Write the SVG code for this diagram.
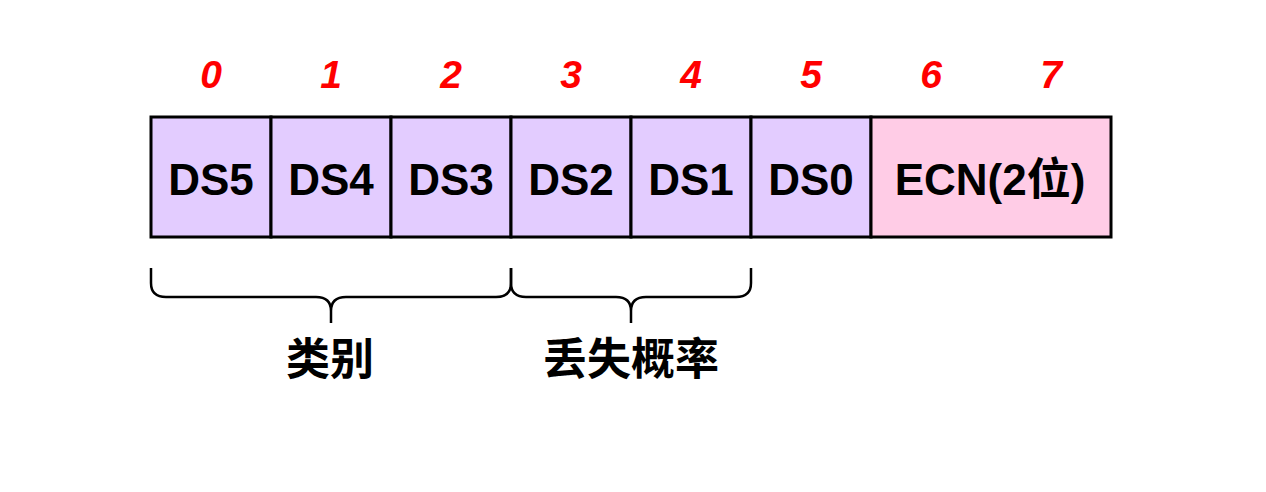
<svg xmlns="http://www.w3.org/2000/svg" width="1266" height="492" viewBox="0 0 1266 492">
<style>
.cell{fill:#e3ccff;stroke:#000;stroke-width:3}
.ecn{fill:#ffcce6;stroke:#000;stroke-width:3}
.t{font-family:"Liberation Sans",Arial,"Noto Sans CJK SC",sans-serif;font-weight:bold;font-size:44px;fill:#000;text-anchor:middle}
.n{font-family:"Liberation Sans",Arial,sans-serif;font-weight:bold;font-style:italic;font-size:39px;fill:#ff0000;text-anchor:middle}
.lab{font-family:"Noto Sans CJK SC","Liberation Sans",sans-serif;font-weight:bold;font-size:44px;fill:#000;text-anchor:middle}
.br{fill:none;stroke:#000;stroke-width:2.5}
</style>
<rect width="1266" height="492" fill="#fff"/>
<g id="bits">
<text class="n" x="211" y="88">0</text>
<text class="n" x="331" y="88">1</text>
<text class="n" x="451" y="88">2</text>
<text class="n" x="571" y="88">3</text>
<text class="n" x="691" y="88">4</text>
<text class="n" x="811" y="88">5</text>
<text class="n" x="931" y="88">6</text>
<text class="n" x="1051" y="88">7</text>
</g>
<g id="ds5"><rect class="cell" x="151" y="117" width="120" height="120"/><text class="t" x="211" y="195">DS5</text></g>
<g id="ds4"><rect class="cell" x="271" y="117" width="120" height="120"/><text class="t" x="331" y="195">DS4</text></g>
<g id="ds3"><rect class="cell" x="391" y="117" width="120" height="120"/><text class="t" x="451" y="195">DS3</text></g>
<g id="ds2"><rect class="cell" x="511" y="117" width="120" height="120"/><text class="t" x="571" y="195">DS2</text></g>
<g id="ds1"><rect class="cell" x="631" y="117" width="120" height="120"/><text class="t" x="691" y="195">DS1</text></g>
<g id="ds0"><rect class="cell" x="751" y="117" width="120" height="120"/><text class="t" x="811" y="195">DS0</text></g>
<g id="ecn"><rect class="ecn" x="871" y="117" width="240" height="120"/><text class="t" x="990" y="195">ECN(2位)</text></g>
<g id="connectors">
<path class="br" d="M151,268 V283 Q151,297 166,297 H316 Q331,297 331,311 V323 M331,311 Q331,297 346,297 H496 Q511,297 511,283 V268"/>
<path class="br" d="M511,268 V283 Q511,297 526,297 H616 Q631,297 631,311 V323 M631,311 Q631,297 646,297 H736 Q751,297 751,283 V268"/>
</g>
<g id="labels">
<text class="lab" x="330" y="375">类别</text>
<text class="lab" x="631" y="375">丢失概率</text>
</g>
</svg>
